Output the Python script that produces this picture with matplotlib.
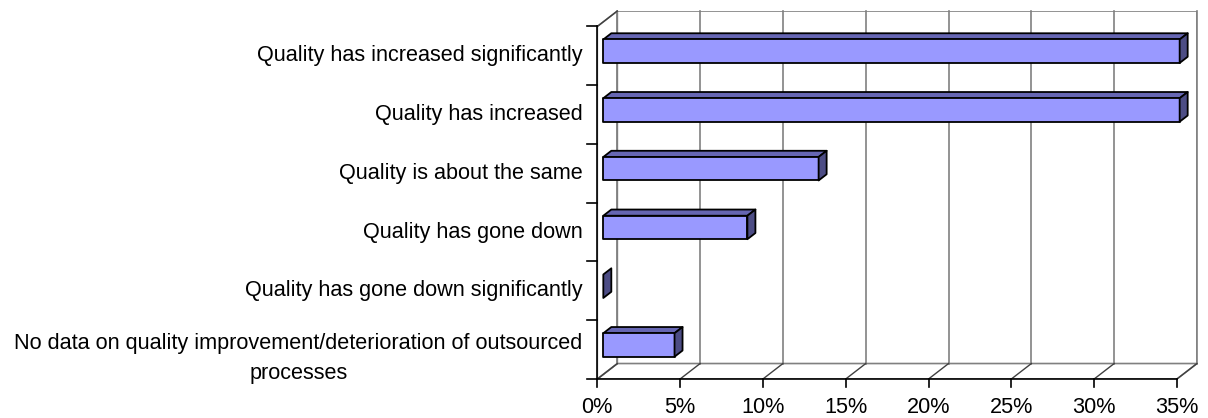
import matplotlib
matplotlib.use("Agg")
import matplotlib.pyplot as plt
from matplotlib.patches import Polygon

categories = [
    "Quality has increased significantly",
    "Quality has increased",
    "Quality is about the same",
    "Quality has gone down",
    "Quality has gone down significantly",
    "No data on quality improvement/deterioration of outsourced\nprocesses",
]
values = [34.8, 34.8, 13.0, 8.7, 0.0, 4.3]
xticks = [0, 5, 10, 15, 20, 25, 30, 35]
xticklabels = ["0%", "5%", "10%", "15%", "20%", "25%", "30%", "35%"]

W, H = 1208, 418
fig = plt.figure(figsize=(W / 100, H / 100), dpi=100)
plt.rcParams['font.family'] = ['Liberation Sans', 'DejaVu Sans']
FS = 15.6

# pixel geometry of the plot box
x0_px, x1_px = 597.3, 1197.0
y0_px, y1_px = 379.0, 11.0
xmax = 35.0
n = len(categories)
px_per_unit_x = (1176.0 - 597.3) / xmax
px_per_unit_y = (379.0 - 26.0) / n
DX = 20.0 / px_per_unit_x
DY = 15.5 / px_per_unit_y

ax = fig.add_axes([x0_px / W, 1 - y0_px / H, (x1_px - x0_px) / W, (y0_px - y1_px) / H])
ax.set_xlim(0, xmax + DX)
ax.set_ylim(0, n + DY)
ax.axis('off')

grid_c = '#808080'
# back wall
ax.add_patch(Polygon([(DX, DY), (xmax + DX, DY), (xmax + DX, n + DY), (DX, n + DY)],
                     closed=True, facecolor='white', edgecolor=grid_c, lw=1.2, zorder=1))
# floor
ax.add_patch(Polygon([(0, 0), (xmax, 0), (xmax + DX, DY), (DX, DY)],
                     closed=True, facecolor='white', edgecolor=grid_c, lw=1.2, zorder=1))
# side wall
ax.add_patch(Polygon([(0, 0), (0, n), (DX, n + DY), (DX, DY)],
                     closed=True, facecolor='white', edgecolor=grid_c, lw=1.2, zorder=1))
# gridlines on back wall + floor diagonals
for t in xticks:
    ax.plot([t + DX, t + DX], [DY, n + DY], color=grid_c, lw=1.2, zorder=2, clip_on=False)
    ax.plot([t, t + DX], [0, DY], color='#404040', lw=1.0, zorder=2, clip_on=False)
ax.plot([0, DX], [n, n + DY], color='#404040', lw=1.0, zorder=2, clip_on=False)

# axes lines
ax.plot([0, xmax], [0, 0], color='black', lw=1.2, zorder=3, clip_on=False)
ax.plot([0, 0], [0, n], color='black', lw=1.2, zorder=3, clip_on=False)
tick_x = 10.0 / px_per_unit_x
tick_y = 8.0 / px_per_unit_y
for i in range(n + 1):
    ax.plot([-tick_x, 0], [i, i], color='black', lw=1.2, zorder=3, clip_on=False)
for t, lab in zip(xticks, xticklabels):
    ax.plot([t, t], [0, -tick_y], color='black', lw=1.2, zorder=3, clip_on=False)
    ax.annotate(lab, (t, 0), xytext=(0, -12.8), textcoords='offset points',
                ha='center', va='top', fontsize=FS, color='black', annotation_clip=False)

# category labels
for i, lab in enumerate(categories):
    yc = n - 0.5 - i
    off = -6.5 if '\n' in lab else 0
    ax.annotate(lab, (0, yc), xytext=(-10.5, off), textcoords='offset points',
                ha='right', va='center', multialignment='center', fontsize=FS,
                color='black', linespacing=1.58, annotation_clip=False)

# bars
front_c, top_c, side_c = '#9999FF', '#6666B3', '#4D4D85'
half = 0.2
d0, d1 = 0.3, 0.7
for i, v in enumerate(values):
    yc = n - 0.5 - i
    fx, fy = d0 * DX, d0 * DY
    bx, by = d1 * DX, d1 * DY
    lo, hi = yc - half, yc + half
    kw = dict(closed=True, edgecolor='black', lw=1.3, zorder=5, joinstyle='round')
    if v > 0:
        ax.add_patch(Polygon([(fx, hi + fy), (fx + v, hi + fy), (bx + v, hi + by), (bx, hi + by)],
                             facecolor=top_c, **kw))
        ax.add_patch(Polygon([(fx, lo + fy), (fx + v, lo + fy), (fx + v, hi + fy), (fx, hi + fy)],
                             facecolor=front_c, **kw))
    ax.add_patch(Polygon([(fx + v, lo + fy), (bx + v, lo + by), (bx + v, hi + by), (fx + v, hi + fy)],
                         facecolor=side_c, **kw))

fig.savefig('out.png', dpi=100)
